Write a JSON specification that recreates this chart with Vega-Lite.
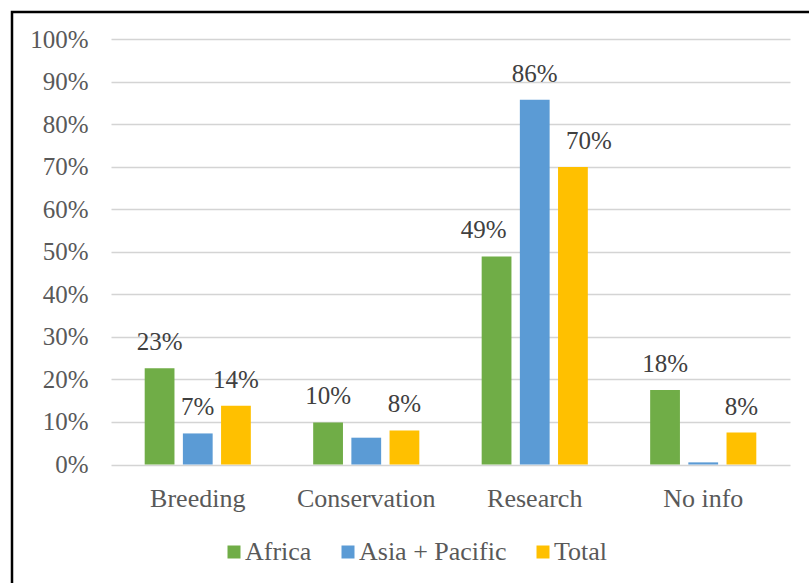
{
  "$schema": "https://vega.github.io/schema/vega-lite/v6.json",
  "autosize": {"type": "none"},
  "padding": {"left": 12, "top": 12, "right": 0, "bottom": 0},
  "width": 818,
  "height": 590,
  "background": "white",
  "config": {
    "view": {"stroke": "black", "strokeWidth": 2.5},
    "font": "Liberation Serif, Times New Roman, serif"
  },
  "data": {
    "values": [
      {"category": "Breeding", "series": "Africa", "value": 0.226, "label": "23%"},
      {"category": "Breeding", "series": "Asia + Pacific", "value": 0.073, "label": "7%"},
      {"category": "Breeding", "series": "Total", "value": 0.138, "label": "14%"},
      {"category": "Conservation", "series": "Africa", "value": 0.099, "label": "10%"},
      {"category": "Conservation", "series": "Asia + Pacific", "value": 0.063, "label": ""},
      {"category": "Conservation", "series": "Total", "value": 0.080, "label": "8%"},
      {"category": "Research", "series": "Africa", "value": 0.489, "label": "49%"},
      {"category": "Research", "series": "Asia + Pacific", "value": 0.857, "label": "86%"},
      {"category": "Research", "series": "Total", "value": 0.699, "label": "70%"},
      {"category": "No info", "series": "Africa", "value": 0.175, "label": "18%"},
      {"category": "No info", "series": "Asia + Pacific", "value": 0.005, "label": ""},
      {"category": "No info", "series": "Total", "value": 0.075, "label": "8%"}
    ]
  },
  "encoding": {
    "x": {
      "field": "category",
      "type": "nominal",
      "sort": ["Breeding", "Conservation", "Research", "No info"],
      "scale": {"range": [99, 778], "paddingInner": 0.37, "paddingOuter": 0.2},
      "axis": {
        "orient": "bottom",
        "offset": -117,
        "domain": false,
        "ticks": false,
        "grid": false,
        "labelPadding": 0,
        "labelAngle": 0,
        "labelFont": "Liberation Serif, Times New Roman, serif",
        "labelFontSize": 26,
        "labelColor": "#595959",
        "title": null
      }
    },
    "xOffset": {
      "field": "series",
      "type": "nominal",
      "sort": ["Africa", "Asia + Pacific", "Total"],
      "scale": {"paddingInner": 0.22}
    },
    "y": {
      "field": "value",
      "type": "quantitative",
      "scale": {"domain": [0, 1], "range": [452.5, 27], "nice": false},
      "axis": {
        "orient": "left",
        "offset": -76,
        "values": [0, 0.1, 0.2, 0.3, 0.4, 0.5, 0.6, 0.7, 0.8, 0.9, 1],
        "format": ".0%",
        "domain": false,
        "ticks": false,
        "grid": true,
        "gridColor": "#d4d4d4",
        "gridWidth": 1.5,
        "labelPadding": 0,
        "labelFont": "Liberation Serif, Times New Roman, serif",
        "labelFontSize": 25,
        "labelColor": "#595959",
        "title": null
      }
    }
  },
  "layer": [
    {
      "mark": {"type": "bar"},
      "encoding": {
        "color": {
          "field": "series",
          "type": "nominal",
          "sort": ["Africa", "Asia + Pacific", "Total"],
          "scale": {"domain": ["Africa", "Asia + Pacific", "Total"], "range": ["#70AD47", "#5B9BD5", "#FFC000"]},
          "legend": {
            "orient": "none",
            "legendX": 209,
            "legendY": 527,
            "direction": "horizontal",
            "title": null,
            "symbolType": "square",
            "symbolSize": 169,
            "symbolStrokeWidth": 0,
            "labelFont": "Liberation Serif, Times New Roman, serif",
            "labelFontSize": 26,
            "labelColor": "#595959",
            "labelOffset": -2,
            "columnPadding": 23,
            "padding": 0
          }
        }
      }
    },
    {
      "transform": [{"filter": "datum.category != 'Research' || datum.series == 'Asia + Pacific'"}],
      "mark": {"type": "text", "font": "Liberation Serif, Times New Roman, serif", "fontSize": 25, "color": "#404040", "baseline": "alphabetic", "align": "center", "dy": -18},
      "encoding": {"text": {"field": "label"}}
    },
    {
      "transform": [{"filter": "datum.category == 'Research' && datum.series == 'Africa'"}],
      "mark": {"type": "text", "font": "Liberation Serif, Times New Roman, serif", "fontSize": 25, "color": "#404040", "baseline": "alphabetic", "align": "center", "dy": -18, "dx": -13},
      "encoding": {"text": {"field": "label"}}
    },
    {
      "transform": [{"filter": "datum.category == 'Research' && datum.series == 'Total'"}],
      "mark": {"type": "text", "font": "Liberation Serif, Times New Roman, serif", "fontSize": 25, "color": "#404040", "baseline": "alphabetic", "align": "center", "dy": -18, "dx": 16},
      "encoding": {"text": {"field": "label"}}
    }
  ]
}
